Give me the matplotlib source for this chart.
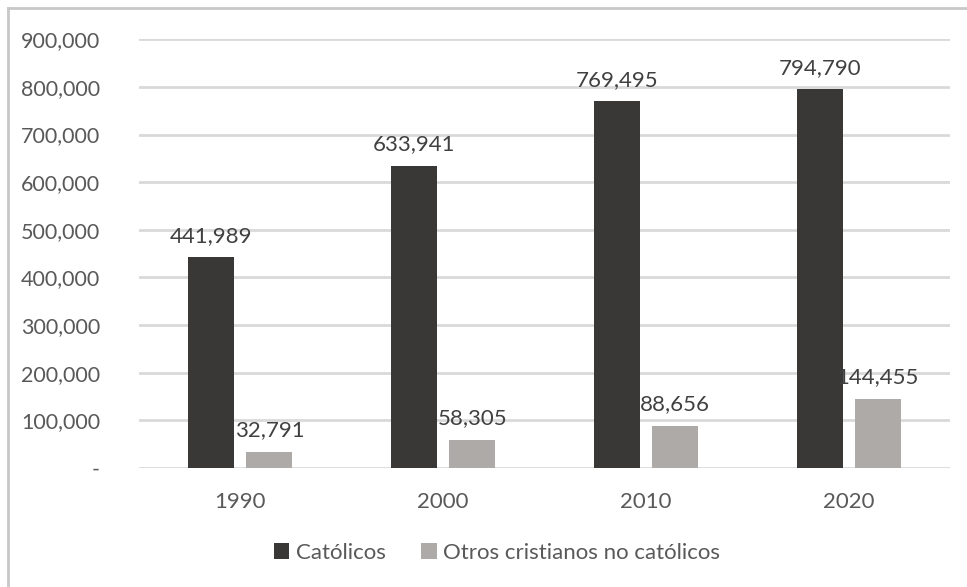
import matplotlib.pyplot as plt
import numpy as np
from matplotlib.lines import Line2D

# Datos
anios = ['1990', '2000', '2010', '2020']
catolicos = [441989, 633941, 769495, 794790]
otros_cristianos = [32791, 58305, 88656, 144455]
ticks_y = [0, 100000, 200000, 300000, 400000, 500000, 600000, 700000, 800000, 900000]

plt.rcParams['font.family'] = ['Lato', 'DejaVu Sans']

color_oscuro = '#3a3836'
color_claro = '#aeaaa8'
color_texto = '#595959'

fig = plt.figure(figsize=(9.67, 5.87), dpi=100)
ax = fig.add_axes([139 / 967, 1 - 468 / 587, (950 - 139) / 967, (468 - 39.3) / 587])

x = np.arange(len(anios))
ancho = 0.227
desp = 0.143

b1 = ax.bar(x - desp, catolicos, ancho, color=color_oscuro, label='Católicos', zorder=3)
b2 = ax.bar(x + desp, otros_cristianos, ancho, color=color_claro,
            label='Otros cristianos no católicos', zorder=3)

for barras in (b1, b2):
    for b in barras:
        ax.annotate(f'{int(b.get_height()):,}',
                    (b.get_x() + b.get_width() / 2, b.get_height()),
                    xytext=(0, 8.5), textcoords='offset points',
                    ha='center', va='bottom', fontsize=16, color='#404040')

ax.set_xlim(-0.5, 3.5)
ax.set_ylim(0, 900000)
ax.set_xticks(x)
ax.set_xticklabels(anios)
ax.set_yticks(ticks_y)
ax.set_yticklabels(['-' if v == 0 else f'{v:,}' for v in ticks_y])
ax.tick_params(axis='both', length=0, labelsize=15.5, colors=color_texto)
ax.tick_params(axis='x', labelsize=16, pad=17)
ax.tick_params(axis='y', pad=28)

ax.grid(axis='y', color='#d9d9d9', linewidth=2, zorder=0)
for s in ax.spines.values():
    s.set_visible(False)

fig.legend(handles=[b1, b2], loc='center', bbox_to_anchor=(497 / 967, 1 - 553 / 587),
           ncol=2, frameon=False, fontsize=16, labelcolor=color_texto,
           handlelength=0.7, handleheight=0.7, handletextpad=0.3, columnspacing=1.6)

# borde exterior (solo arriba e izquierda visibles)
fig.add_artist(Line2D([8 / 967, 8 / 967], [0, 1 - 8 / 587], color='#c8c8c8', lw=2,
                      transform=fig.transFigure))
fig.add_artist(Line2D([8 / 967, 1], [1 - 8 / 587, 1 - 8 / 587], color='#c8c8c8', lw=2,
                      transform=fig.transFigure))

fig.savefig('out.png', dpi=100)
